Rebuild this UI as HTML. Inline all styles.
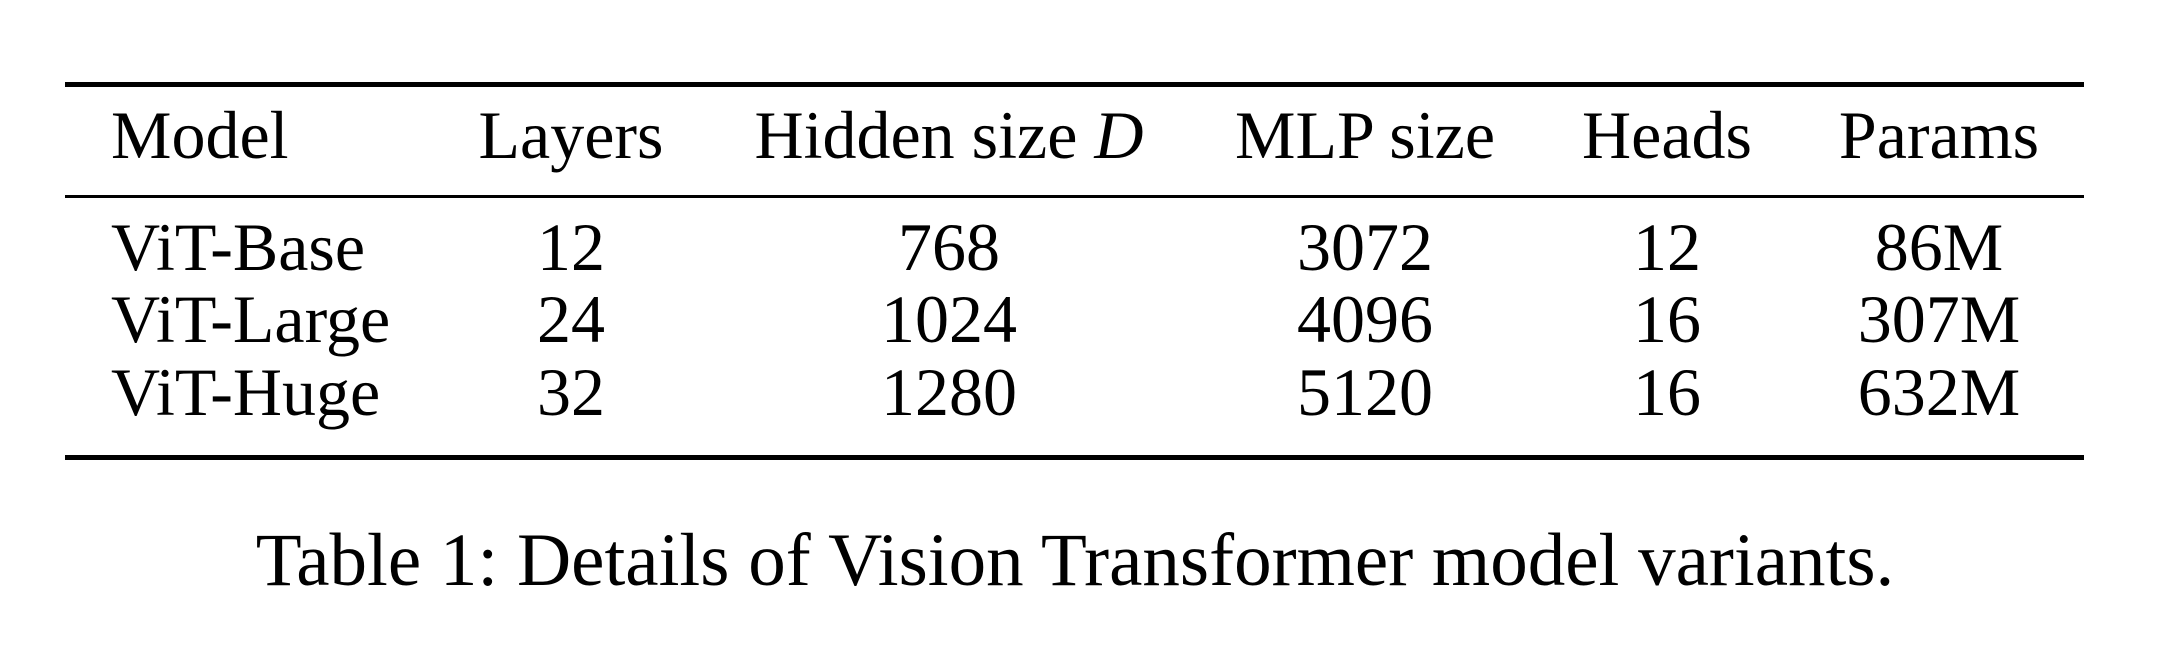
<!DOCTYPE html>
<html><head><meta charset="utf-8"><style>
html,body{margin:0;padding:0;background:#fff;}
body{width:2178px;height:668px;position:relative;overflow:hidden;font-family:"Liberation Serif",serif;color:#000;}
.rule{position:absolute;left:65px;width:2019px;background:#000;}
.t{position:absolute;font-size:68px;line-height:1;white-space:nowrap;}
.c{transform:translateX(-50%);}
</style></head><body>
<div class="rule" style="top:82px;height:5px"></div>
<div class="rule" style="top:195px;height:3px"></div>
<div class="rule" style="top:455px;height:5px"></div>
<div id="tbl"></div>
<div class="t c" style="left:1075px;top:523px;font-size:75px">Table 1: Details of Vision Transformer model variants.</div>
<script>
const headers=["Model","Layers","Hidden size <i>D</i>","MLP size","Heads","Params"];
const models=["ViT-Base","ViT-Large","ViT-Huge"];
const layers=["12","24","32"];
const hidden=["768","1024","1280"];
const mlp=["3072","4096","5120"];
const heads=["12","16","16"];
const params=["86M","307M","632M"];
const colX=[111,571,949,1365,1667,1939];
const rowTop=[101,213,285,358];
const tbl=document.getElementById('tbl');
function cell(html,col,row,name){
  const d=document.createElement('div');
  d.className='t'+(col>0?' c':'');
  d.style.left=colX[col]+'px';
  d.style.top=rowTop[row]+'px';
  d.innerHTML=html;
  
  
  tbl.appendChild(d);
}
headers.forEach((h,i)=>cell(h,i,0,'header-cell'));
const cols=[models,layers,hidden,mlp,heads,params];
models.forEach((m,r)=>{cols.forEach((c,i)=>cell(c[r],i,r+1,'table-cell'));});
</script>
</body></html>
